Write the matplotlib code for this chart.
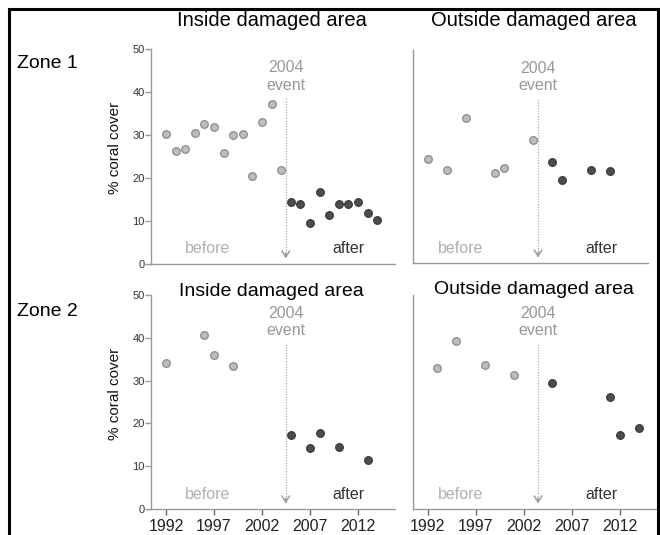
import matplotlib.pyplot as plt

plt.rcParams['font.family'] = ['Liberation Sans', 'DejaVu Sans']

# Zone 1, inside damaged area
z1_in_before_years = [1992, 1993, 1994, 1995, 1996, 1997, 1998, 1999, 2000, 2001, 2002, 2003, 2004]
z1_in_before_cover = [30.3, 26.2, 26.8, 30.5, 32.6, 31.8, 25.7, 29.9, 30.3, 20.4, 33.0, 37.3, 21.8]
z1_in_after_years = [2005, 2006, 2007, 2008, 2009, 2010, 2011, 2012, 2013, 2014]
z1_in_after_cover = [14.5, 14.0, 9.5, 16.7, 11.4, 13.9, 13.9, 14.5, 11.9, 10.2]

# Zone 1, outside damaged area
z1_out_before_years = [1992, 1994, 1996, 1999, 2000, 2003]
z1_out_before_cover = [24.3, 21.8, 34.0, 21.1, 22.4, 28.8]
z1_out_after_years = [2005, 2006, 2009, 2011]
z1_out_after_cover = [23.8, 19.4, 21.9, 21.5]

# Zone 2, inside damaged area
z2_in_before_years = [1992, 1996, 1997, 1999]
z2_in_before_cover = [34.1, 40.6, 36.0, 33.4]
z2_in_after_years = [2005, 2007, 2008, 2010, 2013]
z2_in_after_cover = [17.3, 14.2, 17.8, 14.5, 11.4]

# Zone 2, outside damaged area
z2_out_before_years = [1993, 1995, 1998, 2001]
z2_out_before_cover = [32.9, 39.3, 33.7, 31.4]
z2_out_after_years = [2005, 2011, 2012, 2014]
z2_out_after_cover = [29.5, 26.2, 17.4, 19.0]

year_ticks = [1992, 1997, 2002, 2007, 2012]
cover_ticks = [0, 10, 20, 30, 40, 50]

W, H = 660, 535
fig = plt.figure(figsize=(6.6, 5.35), dpi=100)


def frac(l, t, r, b):
    # pixel box -> figure fraction
    return [l / W, 1 - b / H, (r - l) / W, (b - t) / H]


# outer frame (left, top, right only; bottom is cut off)
fig.add_artist(plt.Line2D([9 / W, 9 / W], [0, 1 - 9 / H], color='black', lw=2.2,
                          transform=fig.transFigure))
fig.add_artist(plt.Line2D([9 / W, 658 / W], [1 - 9 / H, 1 - 9 / H], color='black', lw=2.2,
                          transform=fig.transFigure))
fig.add_artist(plt.Line2D([658 / W, 658 / W], [0, 1 - 9 / H], color='black', lw=2.2,
                          transform=fig.transFigure))

panels = [
    # box, xlim, event x, data, left col, bottom row
    (frac(151, 49, 395, 264), (1990.44, 2015.85), 2004.47,
     (z1_in_before_years, z1_in_before_cover, z1_in_after_years, z1_in_after_cover), True, False),
    (frac(413, 50, 648, 263), (1990.47, 2014.95), 2003.5,
     (z1_out_before_years, z1_out_before_cover, z1_out_after_years, z1_out_after_cover), False, False),
    (frac(151, 295, 395, 509), (1990.44, 2015.85), 2004.47,
     (z2_in_before_years, z2_in_before_cover, z2_in_after_years, z2_in_after_cover), True, True),
    (frac(413, 295, 658, 509), (1990.47, 2016.0), 2003.5,
     (z2_out_before_years, z2_out_before_cover, z2_out_after_years, z2_out_after_cover), False, True),
]

spine_col = '#999999'
for box, xlim, ev, (bx, by, axx, ay), left, bottom in panels:
    ax = fig.add_axes(box)
    ax.set_xlim(*xlim)
    ax.set_ylim(0, 50)
    for s in ['top', 'right']:
        ax.spines[s].set_visible(False)
    for s in ['left', 'bottom']:
        ax.spines[s].set_color(spine_col)
        ax.spines[s].set_linewidth(1.0)

    ax.plot(bx, by, 'o', ms=5.5, mfc='#bdbdbd', mec='#8c8c8c', mew=0.9, clip_on=False)
    ax.plot(axx, ay, 'o', ms=5.5, mfc='#4d4d4d', mec='#3a3a3a', mew=0.9, clip_on=False)

    # event marker
    ax.plot([ev, ev], [38.6, 1.6], ls=(0, (1, 1.2)), color='#aaaaaa', lw=0.9)
    ax.annotate('', xy=(ev, 1.3), xytext=(ev, 2.6),
                arrowprops=dict(arrowstyle='->,head_length=0.45,head_width=0.28',
                                color='#999999', lw=1.0, shrinkA=0, shrinkB=0))
    ax.text(ev, 45.6, '2004', ha='center', va='center', fontsize=11.5, color='#999999')
    ax.text(ev, 41.6, 'event', ha='center', va='center', fontsize=11.5, color='#999999')

    bpos = 1996.3 if left else 1995.4
    apos = 2011.0 if left else 2010.1
    ax.text(bpos, 3.5, 'before', ha='center', va='center', fontsize=11.5, color='#b0b0b0')
    ax.text(apos, 3.5, 'after', ha='center', va='center', fontsize=11.5, color='#333333')

    if left:
        ax.set_yticks(cover_ticks)
        ax.tick_params(axis='y', direction='out', length=4, width=1.0, color=spine_col,
                       pad=0.5, labelsize=8, labelcolor='#333333')
        ax.set_ylabel('% coral cover', fontsize=11, color='#111111')
        ax.yaxis.set_label_coords(-0.12, 0.54)
    else:
        ax.set_yticks([])

    if bottom:
        ax.set_xticks(year_ticks)
        ax.tick_params(axis='x', direction='out', length=4, width=1.0, color='#666666',
                       pad=3, labelsize=11.5, labelcolor='#222222')
    else:
        ax.set_xticks([])

# column titles and zone labels
fig.text(272 / W, 1 - 20 / H, 'Inside damaged area', ha='center', va='center', fontsize=14.5)
fig.text(534 / W, 1 - 20 / H, 'Outside damaged area', ha='center', va='center', fontsize=14.5)
fig.text(271 / W, 1 - 291 / H, 'Inside damaged area', ha='center', va='center', fontsize=14)
fig.text(534 / W, 1 - 290 / H, 'Outside damaged area', ha='center', va='center', fontsize=14)
fig.text(17 / W, 1 - 63 / H, 'Zone 1', ha='left', va='center', fontsize=14)
fig.text(17 / W, 1 - 312 / H, 'Zone 2', ha='left', va='center', fontsize=14)

fig.savefig('out.png', dpi=100)
